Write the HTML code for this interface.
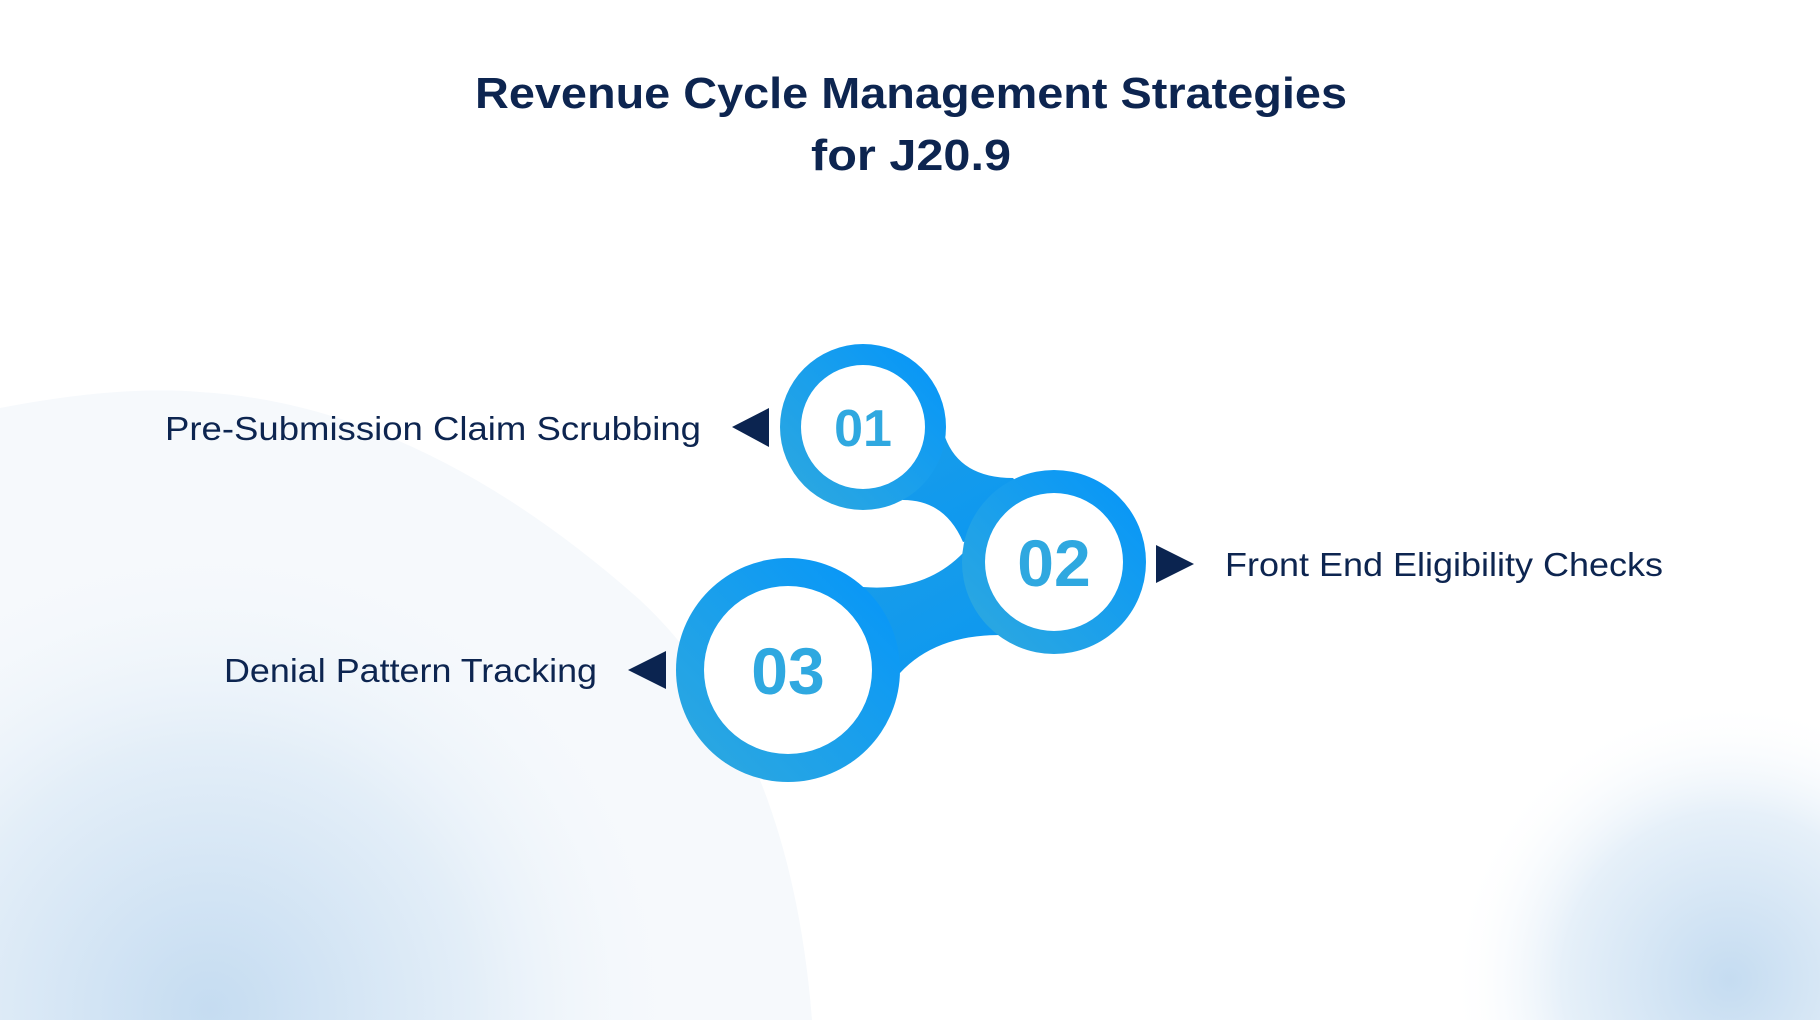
<!DOCTYPE html>
<html><head><meta charset="utf-8"><style>html,body{margin:0;padding:0;background:#fff}svg{display:block}</style></head>
<body>
<svg width="1820" height="1020" viewBox="0 0 1820 1020" xmlns="http://www.w3.org/2000/svg">
<defs>
<radialGradient id="bl" cx="210" cy="1010" r="480" gradientUnits="userSpaceOnUse">
<stop offset="0" stop-color="#c5dcf1"/><stop offset="0.55" stop-color="#e3eef8"/><stop offset="1" stop-color="#f6f9fc" stop-opacity="0"/></radialGradient>
<radialGradient id="br" cx="1730" cy="980" r="280" gradientUnits="userSpaceOnUse">
<stop offset="0" stop-color="#c5dcf1"/><stop offset="0.6" stop-color="#e6f0f9"/><stop offset="1" stop-color="#fff" stop-opacity="0"/></radialGradient>
<linearGradient id="ring" x1="0" y1="1" x2="1" y2="0">
<stop offset="0" stop-color="#2fa9de"/><stop offset="1" stop-color="#0495fa"/></linearGradient>
<linearGradient id="con" x1="0" y1="0" x2="1" y2="1">
<stop offset="0" stop-color="#1a9de8"/><stop offset="1" stop-color="#0a97f2"/></linearGradient>
</defs>
<rect width="1820" height="1020" fill="#fff"/>
<path d="M0,408 Q120,385 200,392 Q420,405 640,600 Q790,740 812,1020 L0,1020 Z" fill="#f6f9fc"/>
<rect width="1820" height="1020" fill="url(#bl)"/>
<rect width="1820" height="1020" fill="url(#br)"/>
<text x="911" y="108" text-anchor="middle" font-family="Liberation Sans, sans-serif" font-weight="bold" font-size="44" fill="#0d2550" textLength="872" lengthAdjust="spacingAndGlyphs">Revenue Cycle Management Strategies</text>
<text x="911" y="170" text-anchor="middle" font-family="Liberation Sans, sans-serif" font-weight="bold" font-size="44" fill="#0d2550" textLength="200" lengthAdjust="spacingAndGlyphs">for J20.9</text>
<path d="M945,437 Q960,478 1013,478 L1050,520 L963,542 Q945,500 903,500 L860,460 Z" fill="url(#con)"/>
<path d="M963,553 Q925,592 863,587 L830,640 L900,673 Q935,635 1000,635 L1050,590 Z" fill="url(#con)"/>
<circle cx="863" cy="427" r="83" fill="url(#ring)"/><circle cx="863" cy="427" r="62" fill="#fff"/>
<circle cx="1054" cy="562" r="92" fill="url(#ring)"/><circle cx="1054" cy="562" r="69" fill="#fff"/>
<circle cx="788" cy="670" r="112" fill="url(#ring)"/><circle cx="788" cy="670" r="84" fill="#fff"/>
<text x="863" y="446" text-anchor="middle" font-family="Liberation Sans, sans-serif" font-weight="bold" font-size="52" fill="#2fa8e0">01</text>
<text x="1054" y="586" text-anchor="middle" font-family="Liberation Sans, sans-serif" font-weight="bold" font-size="66" fill="#2fa8e0">02</text>
<text x="788" y="694" text-anchor="middle" font-family="Liberation Sans, sans-serif" font-weight="bold" font-size="66" fill="#2fa8e0">03</text>
<polygon points="732,427 769,408 769,447" fill="#0b2450"/>
<polygon points="1194,564 1156,545 1156,583" fill="#0b2450"/>
<polygon points="628,670 666,651 666,689" fill="#0b2450"/>
<text x="165" y="440" font-family="Liberation Sans, sans-serif" font-size="33" fill="#0d2550" textLength="536" lengthAdjust="spacingAndGlyphs">Pre-Submission Claim Scrubbing</text>
<text x="1225" y="576" font-family="Liberation Sans, sans-serif" font-size="33" fill="#0d2550" textLength="438" lengthAdjust="spacingAndGlyphs">Front End Eligibility Checks</text>
<text x="224" y="682" font-family="Liberation Sans, sans-serif" font-size="33" fill="#0d2550" textLength="373" lengthAdjust="spacingAndGlyphs">Denial Pattern Tracking</text>
</svg>
</body></html>
